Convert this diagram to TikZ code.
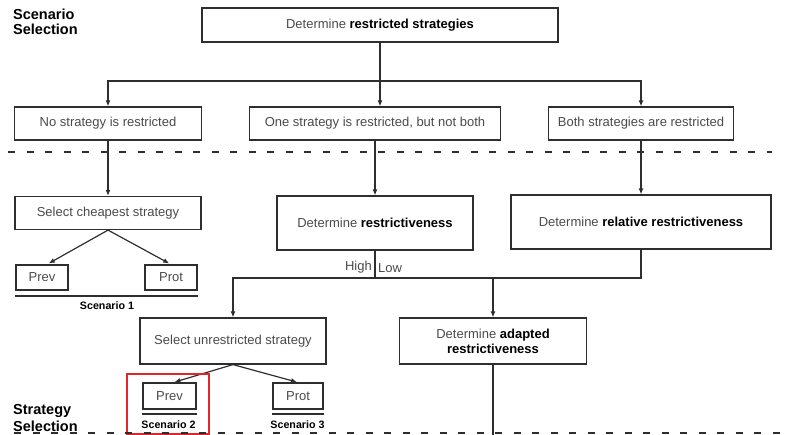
\documentclass[tikz,border=0pt]{standalone}
\usepackage{xcolor}
\usepackage{fontspec}
\setmainfont{Liberation Sans}
\usepackage{tikz}
\usetikzlibrary{arrows.meta,calc}
\definecolor{lineGrey}{HTML}{2E2E2E}
\definecolor{textGrey}{HTML}{4A4A4A}
\definecolor{markRed}{HTML}{E0252B}

\begin{document}
\begin{tikzpicture}[x=1pt, y=-1pt,
    stepbox/.style={draw=lineGrey, line width=1.2pt, text=textGrey, inner sep=2pt,
                    font=\fontsize{13}{15}\selectfont, align=center},
    arr/.style={draw=lineGrey, line width=1.2pt, -{Latex[length=6pt,width=5pt]}},
    link/.style={draw=lineGrey, line width=1.2pt},
    sepline/.style={draw=lineGrey, line width=1.6pt, dash pattern=on 7pt off 11.5pt},
    baseline/.style={draw=lineGrey, line width=2.6pt},
    scen/.style={font=\fontsize{10.7}{12}\selectfont\bfseries, text=black, inner sep=0pt},
    phase/.style={font=\fontsize{14.5}{15}\selectfont\bfseries, text=black, align=left, inner sep=0pt}]
  \useasboundingbox (0,0) rectangle (785,435);

  % phase labels
  \node[phase, anchor=north west] (phaseTop) at (13,9) {Scenario\\Selection};
  \node[phase, anchor=south west] (phaseBot) at (13,432) {Strategy\\[2pt]Selection};

  % scenario selection
  \node[stepbox, minimum width=356pt, minimum height=34pt] (detStrat) at (380,25)
    {Determine \textbf{\color{black}restricted strategies}};
  \node[stepbox, minimum width=187pt, minimum height=33pt] (noRes) at (108,123.5)
    {No strategy is restricted};
  \node[stepbox, minimum width=251pt, minimum height=33pt] (oneRes) at (375,123.5)
    {One strategy is restricted, but not both};
  \node[stepbox, minimum width=185pt, minimum height=33pt] (bothRes) at (641,123.5)
    {Both strategies are restricted};

  \coordinate (splitTop) at (380,81);
  \draw[arr] (detStrat.south) -- (detStrat.south |- oneRes.north);
  \draw[arr] (splitTop) -| (noRes.north);
  \draw[arr] (splitTop) -| (bothRes.north);

  \coordinate (sepTopL) at (8,152);
  \coordinate (sepTopR) at (772,152);
  \draw[sepline] (sepTopL) -- (sepTopR);

  % strategy selection
  \node[stepbox, minimum width=186pt, minimum height=33pt] (cheap) at (108,213)
    {Select cheapest strategy};
  \node[stepbox, minimum width=196pt, minimum height=54pt] (detRestr) at (375,223)
    {Determine \textbf{\color{black}restrictiveness}};
  \node[stepbox, minimum width=260pt, minimum height=54pt] (relRestr) at (641,222)
    {Determine \textbf{\color{black}relative restrictiveness}};

  \draw[arr] (noRes.south) -- (cheap.north);
  \draw[arr] (oneRes.south) -- (detRestr.north);
  \draw[arr] (bothRes.south) -- (relRestr.north);

  \node[stepbox, minimum width=52pt, minimum height=25pt] (prevOne) at (42,277.5) {Prev};
  \node[stepbox, minimum width=52pt, minimum height=25pt] (protOne) at (171,277.5) {Prot};
  \draw[arr, shorten >=2pt] (cheap.south) -- ($(prevOne.north)+(5,0)$);
  \draw[arr, shorten >=2pt] (cheap.south) -- (protOne.north);
  \draw[baseline] (prevOne.south west |- 0,296) -- (protOne.south east |- 0,296);
  \node[scen] (scenOne) at (107,306) {Scenario 1};

  \coordinate (splitMid) at (233,278);
  \node[stepbox, minimum width=186pt, minimum height=46pt] (unres) at (233,341)
    {Select unrestricted strategy};
  \node[stepbox, minimum width=187pt, minimum height=46pt] (adapt) at (493,341)
    {Determine \textbf{\color{black}adapted}\\\textbf{\color{black}restrictiveness}};

  \draw[link] (detRestr.south) -- (detRestr.south |- splitMid);
  \node[text=textGrey, font=\fontsize{13}{15}\selectfont, anchor=east, inner sep=3pt] (high)
    at ($(detRestr.south)+(0,17)$) {High};
  \node[text=textGrey, font=\fontsize{13}{15}\selectfont, anchor=west, inner sep=3pt] (low)
    at ($(detRestr.south)+(0,17)$) {Low};
  \draw[arr] (relRestr.south) |- (splitMid) -- (unres.north);
  \draw[arr] (adapt.north |- splitMid) -- (adapt.north);

  \node[stepbox, minimum width=53pt, minimum height=26pt] (prevTwo) at (169.5,396) {Prev};
  \node[stepbox, minimum width=50pt, minimum height=26pt] (protTwo) at (298,396) {Prot};
  \draw[arr, shorten >=1pt] (unres.south) -- ($(prevTwo.north)+(4,0)$);
  \draw[arr, shorten >=1pt] (unres.south) -- (protTwo.north);
  \draw[baseline] (prevTwo.south west |- 0,414) -- (prevTwo.south east |- 0,414);
  \draw[baseline] (protTwo.south west |- 0,414) -- (protTwo.south east |- 0,414);
  \node[scen] (scenTwo) at (168.5,425) {Scenario 2};
  \node[scen] (scenThree) at (297.5,425) {Scenario 3};
  \draw[markRed, line width=2pt] (127,374) rectangle (209,434);

  \coordinate (adaptEnd) at (493,435);
  \draw[link] (adapt.south) -- (adaptEnd);

  \coordinate (sepBotL) at (14,433);
  \coordinate (sepBotR) at (785,433);
  \draw[sepline] (sepBotL) -- (sepBotR);
\end{tikzpicture}
\end{document}
